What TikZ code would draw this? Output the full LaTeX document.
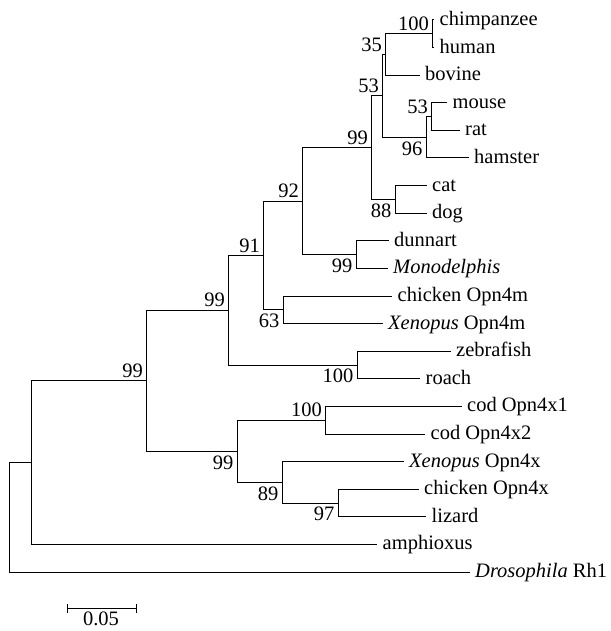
\documentclass[tikz,border=0pt]{standalone}
\usepackage{fontspec}
\setmainfont{Liberation Serif}
\usepackage{tikz}
\usetikzlibrary{arrows.meta}

\begin{document}
\begin{tikzpicture}[
  x=1pt, y=-1pt,
  branch/.style={line width=1pt, color=black},
  taxon/.style={anchor=base west, inner sep=0pt, xshift=5.5pt, yshift=-5.5pt,
    font=\fontsize{20.5}{24}\selectfont},
  bootup/.style={anchor=south east, inner xsep=3pt, inner ysep=3pt,
    font=\fontsize{20.5}{24}\selectfont},
  bootdown/.style={anchor=north east, inner xsep=3.5pt, inner ysep=4pt,
    font=\fontsize{20.5}{24}\selectfont},
  scalebar/.style={{Bar[width=9pt]}-{Bar[width=9pt]}, line width=1pt}
]
\useasboundingbox (0,0) rectangle (610,631);

% --- Leaf tips ---
\coordinate (chimp) at (434,20);
\coordinate (human) at (434,47.6);
\coordinate (bovine) at (419.5,75.2);
\coordinate (mouse) at (447,102.8);
\coordinate (rat) at (459.5,130.4);
\coordinate (hamster) at (468.5,158);
\coordinate (cat) at (426.5,185.6);
\coordinate (dog) at (426.5,213.2);
\coordinate (dunnart) at (388.5,240.8);
\coordinate (mono) at (387.5,268.4);
\coordinate (chickm) at (392,296);
\coordinate (xenm) at (382.5,323.6);
\coordinate (zebra) at (450.5,351.2);
\coordinate (roach) at (420,378.8);
\coordinate (codone) at (461.5,406.4);
\coordinate (codtwo) at (425,434);
\coordinate (xenx) at (403.5,461.6);
\coordinate (chickx) at (418.5,489.2);
\coordinate (lizard) at (426,516.8);
\coordinate (amphi) at (377,544.4);
\coordinate (dros) at (469.5,572);

% --- Internal nodes ---
\coordinate (hc) at (432,33.8);
\coordinate (hcb) at (385,54.5);
\coordinate (mr) at (431,116.6);
\coordinate (mrh) at (426,137.3);
\coordinate (prim) at (382,95.9);
\coordinate (cd) at (395,199.4);
\coordinate (euth) at (371,147.65);
\coordinate (mars) at (356,254.6);
\coordinate (mamm) at (302,201.1);
\coordinate (opnm) at (283,309.8);
\coordinate (tetm) at (263,255.45);
\coordinate (fish) at (357,365);
\coordinate (vertm) at (228,310.2);
\coordinate (cod) at (325,420.2);
\coordinate (cl) at (338,503);
\coordinate (xcl) at (282,482.3);
\coordinate (vertx) at (237,451.25);
\coordinate (vert) at (146,380.7);
\coordinate (chord) at (31,462.55);
\coordinate (root) at (9,517.3);

% --- Branches ---
\draw[branch] (hc) |- (chimp) (hc) |- (human);
\draw[branch] (hcb) |- (hc) (hcb) |- (bovine);
\draw[branch] (mr) |- (mouse) (mr) |- (rat);
\draw[branch] (mrh) |- (mr) (mrh) |- (hamster);
\draw[branch] (prim) |- (hcb) (prim) |- (mrh);
\draw[branch] (cd) |- (cat) (cd) |- (dog);
\draw[branch] (euth) |- (prim) (euth) |- (cd);
\draw[branch] (mars) |- (dunnart) (mars) |- (mono);
\draw[branch] (mamm) |- (euth) (mamm) |- (mars);
\draw[branch] (opnm) |- (chickm) (opnm) |- (xenm);
\draw[branch] (tetm) |- (mamm) (tetm) |- (opnm);
\draw[branch] (fish) |- (zebra) (fish) |- (roach);
\draw[branch] (vertm) |- (tetm) (vertm) |- (fish);
\draw[branch] (cod) |- (codone) (cod) |- (codtwo);
\draw[branch] (cl) |- (chickx) (cl) |- (lizard);
\draw[branch] (xcl) |- (xenx) (xcl) |- (cl);
\draw[branch] (vertx) |- (cod) (vertx) |- (xcl);
\draw[branch] (vert) |- (vertm) (vert) |- (vertx);
\draw[branch] (chord) |- (vert) (chord) |- (amphi);
\draw[branch] (root) |- (chord) (root) |- (dros);

% --- Taxon names ---
\node[taxon] (chimpL) at (chimp) {chimpanzee};
\node[taxon] (humanL) at (human) {human};
\node[taxon] (bovineL) at (bovine) {bovine};
\node[taxon] (mouseL) at (mouse) {mouse};
\node[taxon] (ratL) at (rat) {rat};
\node[taxon] (hamsterL) at (hamster) {hamster};
\node[taxon] (catL) at (cat) {cat};
\node[taxon] (dogL) at (dog) {dog};
\node[taxon] (dunnartL) at (dunnart) {dunnart};
\node[taxon] (monoL) at (mono) {\textit{Monodelphis}};
\node[taxon] (chickmL) at (chickm) {chicken Opn4m};
\node[taxon] (xenmL) at (xenm) {\textit{Xenopus} Opn4m};
\node[taxon] (zebraL) at (zebra) {zebrafish};
\node[taxon] (roachL) at (roach) {roach};
\node[taxon] (codoneL) at (codone) {cod Opn4x1};
\node[taxon] (codtwoL) at (codtwo) {cod Opn4x2};
\node[taxon] (xenxL) at (xenx) {\textit{Xenopus} Opn4x};
\node[taxon] (chickxL) at (chickx) {chicken Opn4x};
\node[taxon] (lizardL) at (lizard) {lizard};
\node[taxon] (amphiL) at (amphi) {amphioxus};
\node[taxon] (drosL) at (dros) {\textit{Drosophila} Rh1};

% --- Bootstrap values ---
\node[bootup] (hcB) at (hc) {100};
\node[bootup] (hcbB) at (hcb) {35};
\node[bootup] (mrB) at (mr) {53};
\node[bootdown] (mrhB) at (mrh) {96};
\node[bootup] (primB) at (prim) {53};
\node[bootdown] (cdB) at (cd) {88};
\node[bootup] (euthB) at (euth) {99};
\node[bootdown] (marsB) at (mars) {99};
\node[bootup] (mammB) at (mamm) {92};
\node[bootdown] (opnmB) at (opnm) {63};
\node[bootup] (tetmB) at (tetm) {91};
\node[bootdown] (fishB) at (fish) {100};
\node[bootup] (vertmB) at (vertm) {99};
\node[bootup] (codB) at (cod) {100};
\node[bootdown] (clB) at (cl) {97};
\node[bootdown] (xclB) at (xcl) {89};
\node[bootdown] (vertxB) at (vertx) {99};
\node[bootup] (vertB) at (vert) {99};

% --- Scale bar ---
\coordinate (sbl) at (67,608);
\coordinate (sbr) at (137,608);
\draw[scalebar] (sbl) -- (sbr);
\node[anchor=base, inner sep=0pt, font=\fontsize{20.5}{24}\selectfont] (sbL) at (101,625.5) {0.05};

\end{tikzpicture}
\end{document}
